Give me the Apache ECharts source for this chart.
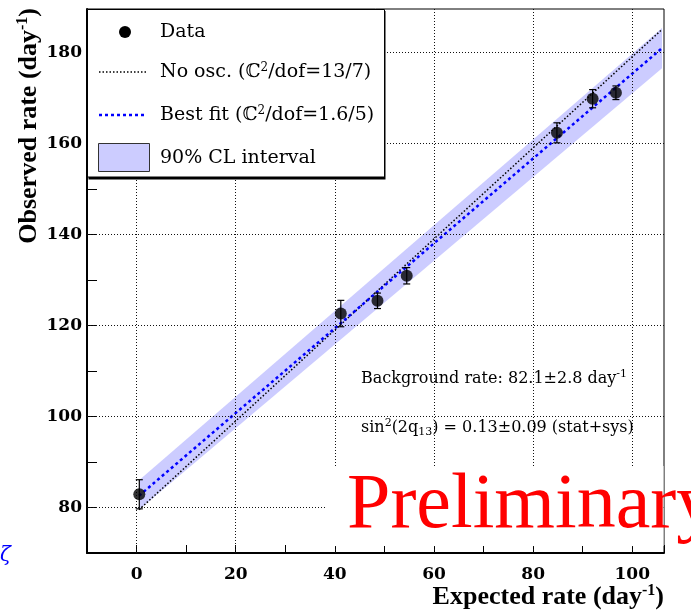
<!DOCTYPE html>
<html>
<head>
<meta charset="utf-8">
<script src="https://cdn.jsdelivr.net/npm/echarts@6/dist/echarts.min.js"></script>
<style>
  html, body { margin: 0; padding: 0; background: #ffffff; }
  #chart { width: 691px; height: 612px; }
</style>
</head>
<body>
<div id="chart"></div>
<script>
// Observed vs expected antineutrino rate per day
const expectedRate = [0.55, 41.2, 48.6, 54.5, 84.8, 92.0, 96.7];
const observedRate = [82.9, 122.6, 125.4, 130.9, 162.3, 169.8, 171.1];
const observedErr  = [3.2, 2.9, 1.7, 1.8, 2.2, 2.0, 1.5];

// straight lines, given by their values at both ends of the drawn range
const lineRange   = [0.5, 106];
const noOscRate   = [79.5, 185.0];
const bestFitRate = [82.57, 180.9];
const bandLow     = [79.5, 176.5];
const bandHigh    = [86.0, 185.3];

// dotted grid positions
const xGridValues = [0, 20, 40, 60, 80, 100];
const yGridValues = [80, 100, 120, 140, 160, 180];

const SERIF = '"DejaVu Serif", serif';
const TIMES = '"Liberation Serif", "Times New Roman", serif';
const BAND_COLOR = '#ccccff';

const chart = echarts.init(document.getElementById('chart'), null, { renderer: 'canvas' });

const pairs = (xs, ys) => xs.map((x, i) => [x, ys[i]]);

const gridMarks = {
  silent: true,
  symbol: 'none',
  label: { show: false },
  lineStyle: { color: '#111', width: 1, type: [1, 2] },
  data: xGridValues.map(v => ({ xAxis: v })).concat(yGridValues.map(v => ({ yAxis: v })))
};

const option = {
  animation: false,
  backgroundColor: '#ffffff',
  grid: {
    left: 87, right: 27, top: 9, bottom: 59,
    show: true, borderColor: '#000', borderWidth: 1, backgroundColor: 'transparent'
  },
  xAxis: {
    type: 'value', min: -10, max: 106.4, interval: 10,
    axisLine: { show: true, onZero: false, lineStyle: { color: '#000', width: 2 } },
    axisTick: { show: true, inside: true, length: 8, lineStyle: { color: '#000', width: 1 } },
    axisLabel: {
      margin: 13, color: '#000', fontFamily: SERIF, fontSize: 17, fontWeight: 'bold',
      formatter: v => (Math.abs(v % 20) < 1e-6 && v >= 0 && v <= 100) ? String(v) : ''
    },
    splitLine: { show: false }
  },
  yAxis: {
    type: 'value', min: 70, max: 189.5, interval: 10,
    axisLine: { show: true, onZero: false, lineStyle: { color: '#000', width: 2 } },
    axisTick: { show: true, inside: true, length: 10, lineStyle: { color: '#000', width: 1 } },
    axisLabel: {
      margin: 5, color: '#000', fontFamily: SERIF, fontSize: 17, fontWeight: 'bold',
      formatter: v => (Math.abs(v % 20) < 1e-6 && v >= 80 && v <= 180) ? String(v) : ''
    },
    splitLine: { show: false }
  },
  series: [
    {
      // dotted grid
      type: 'line', data: [], z: 0, silent: true,
      markLine: gridMarks
    },
    {
      // 90% CL band
      type: 'custom', z: 1, silent: true,
      data: [[lineRange[0], bandLow[0], bandHigh[0]]],
      renderItem: (params, api) => {
        const upper = pairs(lineRange, bandHigh).map(p => api.coord(p));
        const lower = pairs(lineRange, bandLow).map(p => api.coord(p)).reverse();
        return { type: 'polygon', shape: { points: upper.concat(lower) }, style: { fill: BAND_COLOR } };
      }
    },
    {
      // no-oscillation expectation
      type: 'line', z: 2, silent: true, showSymbol: false,
      data: pairs(lineRange, noOscRate),
      lineStyle: { color: '#000', width: 1.5, type: [1.5, 2] }
    },
    {
      // best fit
      type: 'line', z: 3, silent: true, showSymbol: false,
      data: pairs(lineRange, bestFitRate),
      lineStyle: { color: '#0000ff', width: 2.5, type: [3, 3] }
    },
    {
      // error bars with end caps
      type: 'custom', z: 4, silent: true,
      data: expectedRate.map((x, i) => [x, observedRate[i] - observedErr[i], observedRate[i] + observedErr[i]]),
      renderItem: (params, api) => {
        const lo = api.coord([api.value(0), api.value(1)]);
        const hi = api.coord([api.value(0), api.value(2)]);
        const cap = 3.5;
        const st = { stroke: '#000', lineWidth: 1.2 };
        return {
          type: 'group',
          children: [
            { type: 'line', shape: { x1: lo[0], y1: lo[1], x2: hi[0], y2: hi[1] }, style: st },
            { type: 'line', shape: { x1: lo[0] - cap, y1: lo[1], x2: lo[0] + cap, y2: lo[1] }, style: st },
            { type: 'line', shape: { x1: hi[0] - cap, y1: hi[1], x2: hi[0] + cap, y2: hi[1] }, style: st }
          ]
        };
      }
    },
    {
      type: 'scatter', z: 5, silent: true,
      data: pairs(expectedRate, observedRate),
      symbol: 'circle', symbolSize: 12,
      itemStyle: { color: '#000' }
    }
  ],
  graphic: [
    // legend
    { type: 'rect', z: 100, shape: { x: 88.5, y: 11, width: 297, height: 168.5 }, style: { fill: '#000' } },
    { type: 'rect', z: 101, shape: { x: 87.5, y: 9.5, width: 297, height: 167.5 }, style: { fill: '#fff', stroke: '#000', lineWidth: 1 } },
    { type: 'circle', z: 102, shape: { cx: 125, cy: 32, r: 6 }, style: { fill: '#000' } },
    { type: 'text', z: 102, x: 160, y: 32, style: { text: 'Data', font: '19px ' + SERIF, fill: '#000', verticalAlign: 'middle' } },
    { type: 'line', z: 102, shape: { x1: 99, y1: 72, x2: 147, y2: 72 }, style: { stroke: '#000', lineWidth: 1.5, lineDash: [1.5, 2] } },
    { type: 'text', z: 102, x: 160, y: 72, style: {
        text: 'No osc. (ℂ{s|2}/dof=13/7)', font: '19px ' + SERIF, fill: '#000', verticalAlign: 'middle',
        rich: { s: { fontFamily: SERIF, fontSize: 12, padding: [0, 0, 9, 0] } } } },
    { type: 'line', z: 102, shape: { x1: 99, y1: 115, x2: 147, y2: 115 }, style: { stroke: '#0000ff', lineWidth: 2.5, lineDash: [3, 3] } },
    { type: 'text', z: 102, x: 160, y: 115, style: {
        text: 'Best fit (ℂ{s|2}/dof=1.6/5)', font: '19px ' + SERIF, fill: '#000', verticalAlign: 'middle',
        rich: { s: { fontFamily: SERIF, fontSize: 12, padding: [0, 0, 9, 0] } } } },
    { type: 'rect', z: 102, shape: { x: 98.5, y: 143.5, width: 51, height: 28 }, style: { fill: BAND_COLOR, stroke: '#333', lineWidth: 1 } },
    { type: 'text', z: 102, x: 160, y: 158, style: { text: '90% CL interval', font: '19px ' + SERIF, fill: '#000', verticalAlign: 'middle' } },

    // fit results
    { type: 'text', z: 50, x: 361, y: 379, style: {
        text: 'Background rate: 82.1±2.8 day{s|-1}', font: '16px ' + SERIF, fill: '#000', verticalAlign: 'middle',
        rich: { s: { fontFamily: SERIF, fontSize: 11, padding: [0, 0, 9, 0] } } } },
    { type: 'text', z: 50, x: 361, y: 428, style: {
        text: 'sin{s|2}(2q{b|13}) = 0.13±0.09 (stat+sys)', font: '16px ' + SERIF, fill: '#000', verticalAlign: 'middle',
        rich: {
          s: { fontFamily: SERIF, fontSize: 11, padding: [0, 0, 9, 0] },
          b: { fontFamily: SERIF, fontSize: 11, padding: [9, 0, 0, 0] }
        } } },

    // watermark on an opaque patch inside the frame
    { type: 'rect', z: 60, shape: { x: 327, y: 466, width: 336.5, height: 80 }, style: { fill: '#fff' } },
    { type: 'text', z: 61, x: 347, y: 507, style: { text: 'Preliminary', font: '78px ' + TIMES, fill: '#ff0000', verticalAlign: 'middle' } },

    // axis titles
    { type: 'text', z: 50, x: 664, y: 597, style: {
        text: 'Expected rate (day{s|-1})', font: 'bold 26px ' + TIMES, fill: '#000', align: 'right', verticalAlign: 'middle',
        rich: { s: { fontFamily: TIMES, fontWeight: 'bold', fontSize: 16, padding: [0, 0, 12, 0] } } } },
    { type: 'text', z: 50, x: 29, y: 8, rotation: Math.PI / 2, style: {
        text: 'Observed rate (day{s|-1})', font: 'bold 26px ' + TIMES, fill: '#000', align: 'right', verticalAlign: 'middle',
        rich: { s: { fontFamily: TIMES, fontWeight: 'bold', fontSize: 16, padding: [0, 0, 12, 0] } } } },

    // stray glyph at the lower left edge
    { type: 'text', z: 50, x: 0, y: 556, style: { text: 'ζ', font: 'italic 20px ' + SERIF, fill: '#0000ff', verticalAlign: 'middle' } }
  ]
};

chart.setOption(option);
</script>
</body>
</html>
